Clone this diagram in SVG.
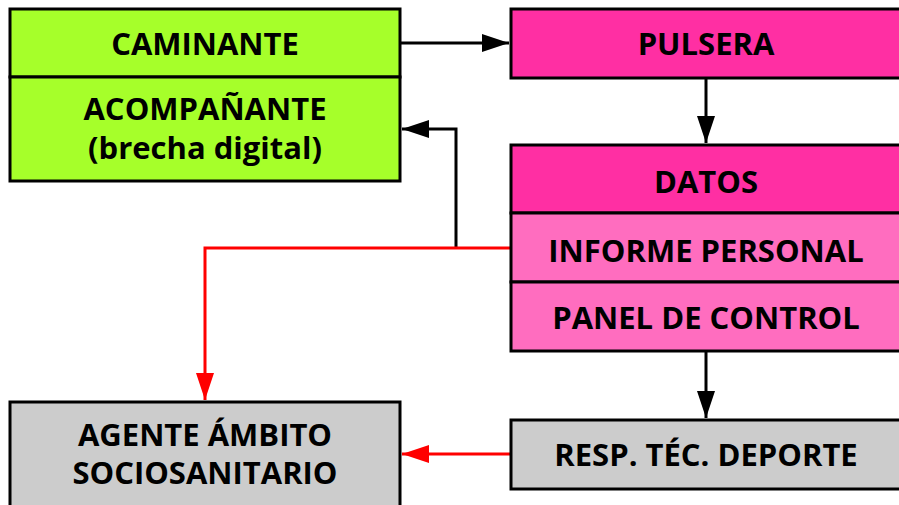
<svg xmlns="http://www.w3.org/2000/svg" width="899" height="505" viewBox="0 0 899 505">
<style>
.box{stroke:#000;stroke-width:3}
.g{fill:#a6ff2a}.m{fill:#ff2fa3}.p{fill:#ff6dbf}.gr{fill:#cccccc}
text{font-family:"Open Sans","DejaVu Sans",sans-serif;font-weight:bold;font-size:31px;fill:#000;text-anchor:middle}
.c{fill:none;stroke-width:3}
</style>
<defs>
<marker id="ab" markerWidth="9" markerHeight="6" refX="9" refY="3" orient="auto" markerUnits="strokeWidth"><path d="M0,0 L9,3 L0,6 Z" fill="#000"/></marker>
<marker id="ar" markerWidth="9" markerHeight="6" refX="9" refY="3" orient="auto" markerUnits="strokeWidth"><path d="M0,0 L9,3 L0,6 Z" fill="#ff0000"/></marker>
</defs>
<rect width="899" height="505" fill="#fff"/>
<g id="connectors">
<path class="c" stroke="#000" d="M400,43 H509" marker-end="url(#ab)"/>
<path class="c" stroke="#000" d="M706,78 V143" marker-end="url(#ab)"/>
<path class="c" stroke="#000" d="M456,248 V129 H402" marker-end="url(#ab)"/>
<path class="c" stroke="#ff0000" d="M511,248 H205 V400" marker-end="url(#ar)"/>
<path class="c" stroke="#000" d="M706,351 V418" marker-end="url(#ab)"/>
<path class="c" stroke="#ff0000" d="M511,454 H402" marker-end="url(#ar)"/>
</g>
<g id="caminante"><rect class="box g" x="10" y="9" width="390" height="68"/><text x="205" y="55">CAMINANTE</text></g>
<g id="acompanante"><rect class="box g" x="10" y="77" width="390" height="104"/><text x="205" y="120">ACOMPAÑANTE</text><text x="205" y="159">(brecha digital)</text></g>
<g id="pulsera"><rect class="box m" x="511" y="9" width="392" height="69"/><text x="706" y="55">PULSERA</text></g>
<g id="datos"><rect class="box m" x="511" y="145" width="392" height="68"/><text x="706" y="193">DATOS</text></g>
<g id="informe"><rect class="box p" x="511" y="213" width="392" height="69"/><text x="706" y="262">INFORME PERSONAL</text></g>
<g id="panel"><rect class="box p" x="511" y="282" width="392" height="69"/><text x="706" y="329">PANEL DE CONTROL</text></g>
<g id="resp"><rect class="box gr" x="511" y="420" width="392" height="69"/><text x="706" y="466">RESP. TÉC. DEPORTE</text></g>
<g id="agente"><rect class="box gr" x="10" y="402" width="390" height="106"/><text x="205" y="446">AGENTE ÁMBITO</text><text x="205" y="484">SOCIOSANITARIO</text></g>
</svg>
